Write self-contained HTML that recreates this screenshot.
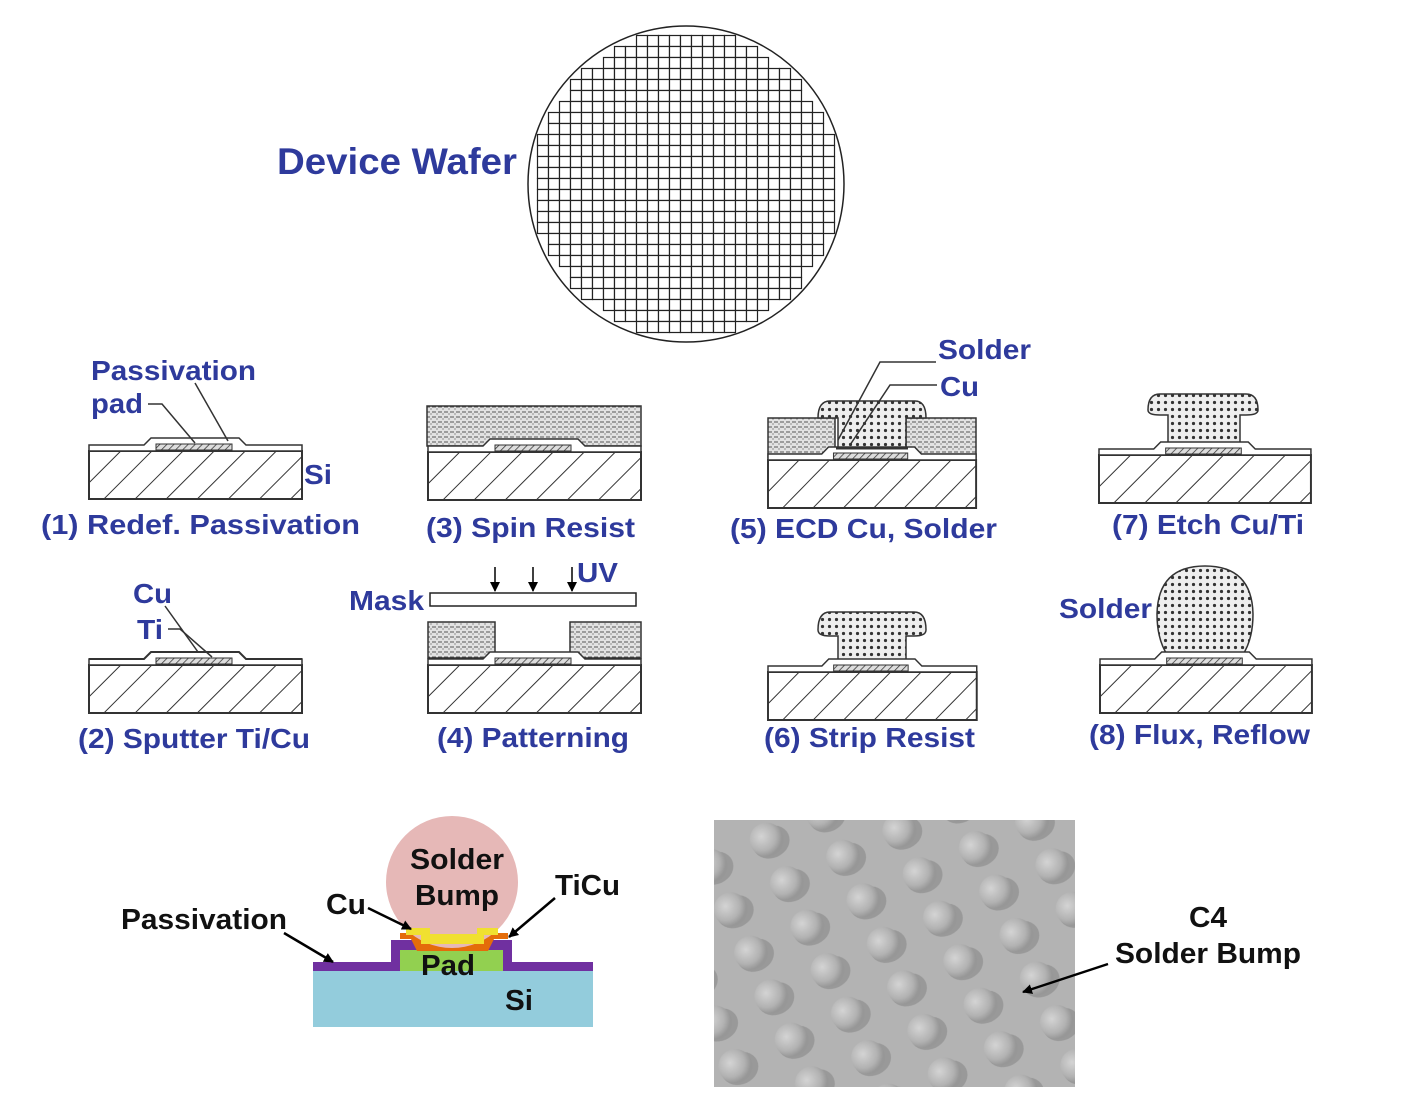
<!DOCTYPE html>
<html><head><meta charset="utf-8"><style>
html,body{margin:0;padding:0;background:#fff}
svg{display:block}
.b{font-family:"Liberation Sans",sans-serif;font-weight:bold;fill:#2e3a9c}
.k{font-family:"Liberation Sans",sans-serif;font-weight:bold;fill:#111}
</style></head><body>
<svg id="s" width="1417" height="1114" viewBox="0 0 1417 1114" xmlns="http://www.w3.org/2000/svg">
<defs>
<pattern id="hatch" width="22" height="22" patternUnits="userSpaceOnUse" patternTransform="rotate(45)">
<rect width="22" height="22" fill="#fff"/><line x1="0" y1="0" x2="0" y2="22" stroke="#333" stroke-width="2"/></pattern>
<pattern id="fine" width="5" height="5" patternUnits="userSpaceOnUse" patternTransform="rotate(45)">
<rect width="5" height="5" fill="#ddd"/><line x1="0" y1="0" x2="0" y2="5" stroke="#333" stroke-width="1.5"/></pattern>
<pattern id="dots" width="7" height="7" patternUnits="userSpaceOnUse">
<rect width="7" height="7" fill="#eee"/><circle cx="3.5" cy="3.5" r="1.6" fill="#333"/></pattern>
<pattern id="resist" width="6" height="5" patternUnits="userSpaceOnUse">
<rect width="6" height="5" fill="#e2e2e2"/><line x1="0" y1="2" x2="4" y2="2" stroke="#555" stroke-width="1"/><circle cx="5" cy="4" r=".6" fill="#555"/></pattern>
<g id="base">
<rect x="0" y="0" width="213" height="48" fill="url(#hatch)" stroke="#333" stroke-width="2"/>
<path d="M0,-6 H55 L62,-13 H150 L157,-6 H213 V0 H0 Z" fill="#fff" stroke="#333" stroke-width="1.5"/>
<rect x="67" y="-7" width="76" height="6" fill="url(#fine)" stroke="#333" stroke-width="1"/>
</g>
<marker id="ar" markerWidth="10" markerHeight="10" refX="9" refY="5" orient="auto" markerUnits="userSpaceOnUse"><path d="M0,0 L10,5 L0,10 Z" fill="#000"/></marker>
<radialGradient id="bump" cx="40%" cy="35%" r="60%"><stop offset="0" stop-color="#d4d4d4"/><stop offset=".7" stop-color="#b2b2b2"/><stop offset="1" stop-color="#979797"/></radialGradient>
<pattern id="sem" width="62" height="48" patternUnits="userSpaceOnUse" patternTransform="rotate(-25) translate(0,5)">
<rect width="62" height="48" fill="#b3b3b3"/><ellipse cx="33" cy="28" rx="19" ry="16" fill="#999"/><circle cx="30" cy="24" r="17" fill="url(#bump)"/></pattern>
</defs>

<!-- wafer -->
<circle cx="686" cy="184" r="158" fill="#fff" stroke="#222" stroke-width="1.5"/>
<g id="grid" fill="#fff" stroke="#222" stroke-width="1.2"></g>
<text class="b" x="277" y="174" font-size="37" textLength="240" lengthAdjust="spacingAndGlyphs">Device Wafer</text>

<!-- step 1 -->
<use href="#base" x="89" y="451"/>
<text class="b" x="91" y="380" font-size="28" textLength="165" lengthAdjust="spacingAndGlyphs">Passivation</text>
<text class="b" x="91" y="413" font-size="28" textLength="52" lengthAdjust="spacingAndGlyphs">pad</text>
<path d="M148,404 H162 L195,443" fill="none" stroke="#333" stroke-width="1.5"/>
<path d="M195,383 L228,441" fill="none" stroke="#333" stroke-width="1.5"/>
<text class="b" x="304" y="484" font-size="28" textLength="28" lengthAdjust="spacingAndGlyphs">Si</text>
<text class="b" x="41" y="534" font-size="28" textLength="319" lengthAdjust="spacingAndGlyphs">(1) Redef.  Passivation</text>

<!-- step 2 -->
<use href="#base" x="89" y="665"/>
<path d="M89,659 H144 L151,652 H239 L246,659 H302" fill="none" stroke="#333" stroke-width="2"/>
<text class="b" x="133" y="603" font-size="28" textLength="39" lengthAdjust="spacingAndGlyphs">Cu</text>
<text class="b" x="137" y="639" font-size="28" textLength="26" lengthAdjust="spacingAndGlyphs">Ti</text>
<path d="M168,629 H180 L212,657" fill="none" stroke="#333" stroke-width="1.5"/>
<path d="M165,606 L198,652" fill="none" stroke="#333" stroke-width="1.5"/>
<text class="b" x="78" y="748" font-size="28" textLength="232" lengthAdjust="spacingAndGlyphs">(2) Sputter Ti/Cu</text>

<!-- step 3 -->
<rect x="427" y="406" width="214" height="40" fill="url(#resist)" stroke="#333" stroke-width="1.5"/>
<use href="#base" x="428" y="452"/>
<text class="b" x="426" y="537" font-size="28" textLength="209" lengthAdjust="spacingAndGlyphs">(3) Spin Resist</text>

<!-- step 4 -->
<rect x="428" y="622" width="67" height="36" fill="url(#resist)" stroke="#333" stroke-width="1.5"/>
<rect x="570" y="622" width="71" height="36" fill="url(#resist)" stroke="#333" stroke-width="1.5"/>
<use href="#base" x="428" y="665"/>
<rect x="430" y="593" width="206" height="13" fill="#fff" stroke="#222" stroke-width="1.5"/>
<line x1="495" y1="567" x2="495" y2="591" stroke="#000" stroke-width="1.5" marker-end="url(#ar)"/>
<line x1="533" y1="567" x2="533" y2="591" stroke="#000" stroke-width="1.5" marker-end="url(#ar)"/>
<line x1="572" y1="567" x2="572" y2="591" stroke="#000" stroke-width="1.5" marker-end="url(#ar)"/>
<text class="b" x="577" y="582" font-size="28" textLength="41" lengthAdjust="spacingAndGlyphs">UV</text>
<text class="b" x="349" y="610" font-size="28" textLength="75" lengthAdjust="spacingAndGlyphs">Mask</text>
<text class="b" x="437" y="747" font-size="28" textLength="192" lengthAdjust="spacingAndGlyphs">(4) Patterning</text>

<!-- step 5 -->
<rect x="768" y="418" width="67" height="40" fill="url(#resist)" stroke="#333" stroke-width="1.5"/>
<rect x="906" y="418" width="70" height="40" fill="url(#resist)" stroke="#333" stroke-width="1.5"/>
<path d="M818,418 Q818,401 830,401 H915 Q926,401 926,418 L906,418 V450 H838 V418 Z" fill="url(#dots)" stroke="#333" stroke-width="1.5"/>
<use href="#base" x="768" y="460" transform="translate(768,460) scale(0.977,1) translate(-768,-460)"/>
<path d="M836,448 H908" stroke="#333" stroke-width="3"/>
<path d="M838,440 L880,362 H936" fill="none" stroke="#333" stroke-width="1.5"/>
<path d="M850,445 L890,385 H937" fill="none" stroke="#333" stroke-width="1.5"/>
<text class="b" x="938" y="359" font-size="28" textLength="93" lengthAdjust="spacingAndGlyphs">Solder</text>
<text class="b" x="940" y="396" font-size="28" textLength="39" lengthAdjust="spacingAndGlyphs">Cu</text>
<text class="b" x="730" y="538" font-size="28" textLength="267" lengthAdjust="spacingAndGlyphs">(5) ECD Cu, Solder</text>

<!-- step 6 -->
<path d="M818,630 Q818,612 830,612 H914 Q926,612 926,630 Q926,636 914,636 H906 V662 H838 V636 H830 Q818,636 818,630 Z" fill="url(#dots)" stroke="#333" stroke-width="1.5"/>
<use href="#base" x="768" y="672" transform="translate(768,672) scale(0.98,1) translate(-768,-672)"/>
<text class="b" x="764" y="747" font-size="28" textLength="211" lengthAdjust="spacingAndGlyphs">(6) Strip Resist</text>

<!-- step 7 -->
<path d="M1148,410 Q1148,394 1160,394 H1246 Q1258,394 1258,410 Q1258,415 1246,415 H1240 V450 H1168 V415 H1160 Q1148,415 1148,410 Z" fill="url(#dots)" stroke="#333" stroke-width="1.5"/>
<use href="#base" x="1099" y="455" transform="translate(1099,455) scale(0.995,1) translate(-1099,-455)"/>
<text class="b" x="1112" y="534" font-size="28" textLength="192" lengthAdjust="spacingAndGlyphs">(7) Etch Cu/Ti</text>

<!-- step 8 -->
<path d="M1168,656 Q1157,640 1157,614 Q1158,566 1205,566 Q1252,566 1253,614 Q1253,640 1242,656 Z" fill="url(#dots)" stroke="#333" stroke-width="1.5"/>
<use href="#base" x="1100" y="665" transform="translate(1100,665) scale(0.995,1) translate(-1100,-665)"/>
<text class="b" x="1059" y="618" font-size="28" textLength="93" lengthAdjust="spacingAndGlyphs">Solder</text>
<text class="b" x="1089" y="744" font-size="28" textLength="221" lengthAdjust="spacingAndGlyphs">(8) Flux, Reflow</text>

<!-- colored cross-section -->
<rect x="313" y="970" width="280" height="57" fill="#93ccdc"/>
<path d="M313,962 H391 V940 H512 V962 H593 V971 H313 Z" fill="#7030a0"/>
<rect x="400" y="950" width="103" height="21" fill="#92d050"/>
<path d="M400,933 H508 V939 H494 L488,951 H417 L411,939 H400 Z" fill="#e46c0a"/>
<circle cx="452" cy="882" r="66" fill="#e6b8b7"/>
<path d="M406,928 H430 V934 H477 V928 H498 V935 H484 L484,944 H421 L421,935 H406 Z" fill="#f0e030"/>
<text class="k" x="410" y="869" font-size="29" textLength="94" lengthAdjust="spacingAndGlyphs">Solder</text>
<text class="k" x="415" y="905" font-size="29" textLength="84" lengthAdjust="spacingAndGlyphs">Bump</text>
<text class="k" x="421" y="975" font-size="29" textLength="54" lengthAdjust="spacingAndGlyphs">Pad</text>
<text class="k" x="505" y="1010" font-size="29" textLength="28" lengthAdjust="spacingAndGlyphs">Si</text>
<text class="k" x="326" y="914" font-size="29" textLength="40" lengthAdjust="spacingAndGlyphs">Cu</text>
<text class="k" x="555" y="895" font-size="29" textLength="65" lengthAdjust="spacingAndGlyphs">TiCu</text>
<text class="k" x="121" y="929" font-size="29" textLength="166" lengthAdjust="spacingAndGlyphs">Passivation</text>
<line x1="368" y1="908" x2="411" y2="929" stroke="#000" stroke-width="2.5" marker-end="url(#ar)"/>
<line x1="555" y1="898" x2="509" y2="937" stroke="#000" stroke-width="2.5" marker-end="url(#ar)"/>
<line x1="284" y1="933" x2="333" y2="962" stroke="#000" stroke-width="2.5" marker-end="url(#ar)"/>

<!-- SEM -->
<rect x="714" y="820" width="361" height="267" fill="url(#sem)"/>
<line x1="1108" y1="964" x2="1023" y2="992" stroke="#000" stroke-width="2.5" marker-end="url(#ar)"/>
<text class="k" x="1189" y="927" font-size="29" textLength="38" lengthAdjust="spacingAndGlyphs">C4</text>
<text class="k" x="1115" y="963" font-size="29" textLength="186" lengthAdjust="spacingAndGlyphs">Solder Bump</text>
</svg>
<script>
(function(){
var g=document.getElementById('grid'),ns='http://www.w3.org/2000/svg',cx=686,cy=184,R=157,s=11;
for(var i=-15;i<15;i++)for(var j=-15;j<15;j++){
var x=cx-5.5+i*s,y=cy-5.5+j*s,ok=true;
[[x,y],[x+s,y],[x,y+s],[x+s,y+s]].forEach(function(p){if((p[0]-cx)*(p[0]-cx)+(p[1]-cy)*(p[1]-cy)>R*R)ok=false;});
if(ok){var r=document.createElementNS(ns,'rect');r.setAttribute('x',x);r.setAttribute('y',y);r.setAttribute('width',s);r.setAttribute('height',s);g.appendChild(r);}
}})();
</script>
</body></html>
